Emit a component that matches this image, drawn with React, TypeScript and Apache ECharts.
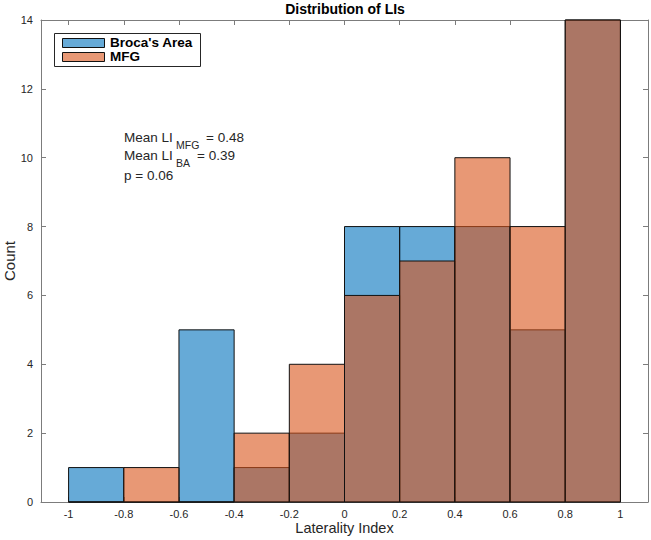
import React, { useEffect, useRef } from "react";
import * as echarts from "echarts";

const binEdges = [-1, -0.8, -0.6, -0.4, -0.2, 0, 0.2, 0.4, 0.6, 0.8, 1];
const brocaCounts = [1, 0, 5, 1, 2, 8, 8, 8, 5, 14];
const mfgCounts = [0, 1, 0, 2, 4, 6, 7, 10, 8, 14];
const xTicks = [-1, -0.8, -0.6, -0.4, -0.2, 0, 0.2, 0.4, 0.6, 0.8, 1];
const seriesNames = ["Broca's Area", "MFG"];

const BLUE = "rgba(0,114,189,0.6)";
const ORANGE = "rgba(217,83,25,0.6)";
const AXIS = "#7c7c7c";
const TEXT = "#262626";
const FONT = "'Liberation Sans', Arial, Helvetica, sans-serif";

function binData(counts: number[]) {
  return counts.map((c, i) => [binEdges[i], binEdges[i + 1], c]);
}

function makeRender(fill: string) {
  return (params: any, api: any) => {
    const x0 = api.value(0);
    const x1 = api.value(1);
    const c = api.value(2);
    const p0 = api.coord([x0, c]);
    const p1 = api.coord([x1, 0]);
    return {
      type: "rect",
      shape: { x: p0[0], y: p0[1], width: p1[0] - p0[0], height: p1[1] - p0[1] },
      style: { fill, stroke: "#111", lineWidth: 1 },
    };
  };
}

export default function App() {
  const ref = useRef<HTMLDivElement>(null);
  useEffect(() => {
    if (!ref.current) return;
    const chart = echarts.init(ref.current, null, { renderer: "svg" });
    const tickCommon = { show: true, inside: true, length: 5, lineStyle: { color: AXIS } };
    chart.setOption({
      animation: false,
      backgroundColor: "#fff",
      grid: { left: 41, right: 3, top: 20, bottom: 38, containLabel: false, outerBoundsMode: "none" },
      xAxis: [
        {
          type: "value",
          min: -1.1,
          max: 1.1,
          position: "bottom",
          name: "Laterality Index",
          nameLocation: "middle",
          nameGap: 19,
          nameMoveOverlap: false,
          nameTextStyle: { fontFamily: FONT, fontSize: 14.5, lineHeight: 14, color: TEXT },
          axisLine: { show: true, onZero: false, lineStyle: { color: AXIS } },
          axisTick: { ...tickCommon, customValues: xTicks },
          axisLabel: {
            customValues: xTicks,
            fontFamily: FONT,
            fontSize: 11,
            lineHeight: 11,
            color: TEXT,
            margin: 6,
            formatter: (v: number) => String(Math.round(v * 10) / 10),
          },
          splitLine: { show: false },
        },
        {
          type: "value",
          min: -1.1,
          max: 1.1,
          position: "top",
          axisLine: { show: true, onZero: false, lineStyle: { color: AXIS } },
          axisTick: { ...tickCommon, customValues: xTicks },
          axisLabel: { show: false },
          splitLine: { show: false },
        },
      ],
      yAxis: [
        {
          type: "value",
          min: 0,
          max: 14,
          interval: 2,
          position: "left",
          name: "Count",
          nameLocation: "middle",
          nameGap: 24,
          nameMoveOverlap: false,
          nameTextStyle: { fontFamily: FONT, fontSize: 15, color: TEXT },
          axisLine: { show: true, onZero: false, lineStyle: { color: AXIS } },
          axisTick: tickCommon,
          axisLabel: { fontFamily: FONT, fontSize: 11, color: TEXT, margin: 8 },
          splitLine: { show: false },
        },
        {
          type: "value",
          min: 0,
          max: 14,
          interval: 2,
          position: "right",
          axisLine: { show: true, onZero: false, lineStyle: { color: AXIS } },
          axisTick: tickCommon,
          axisLabel: { show: false },
          splitLine: { show: false },
        },
      ],
      series: [
        {
          type: "custom",
          name: seriesNames[0],
          renderItem: makeRender(BLUE),
          encode: { x: [0, 1], y: 2 },
          data: binData(brocaCounts),
          z: 2,
        },
        {
          type: "custom",
          name: seriesNames[1],
          renderItem: makeRender(ORANGE),
          encode: { x: [0, 1], y: 2 },
          data: binData(mfgCounts),
          z: 3,
        },
      ],
      graphic: [
        {
          type: "text",
          x: 345,
          y: 9,
          style: {
            text: "Distribution of LIs",
            font: `bold 14px ${FONT}`,
            fill: "#000",
            align: "center",
            verticalAlign: "middle",
          },
          z: 10,
        },
        {
          type: "rect",
          shape: { x: 54.5, y: 33.5, width: 146, height: 33 },
          style: { fill: "#fff", stroke: "#262626", lineWidth: 1 },
          z: 10,
        },
        {
          type: "rect",
          shape: { x: 62.5, y: 38.5, width: 42, height: 9 },
          style: { fill: "rgb(102,170,215)", stroke: "#111", lineWidth: 1 },
          z: 11,
        },
        {
          type: "rect",
          shape: { x: 62.5, y: 52.5, width: 42, height: 9 },
          style: { fill: "rgb(232,152,117)", stroke: "#111", lineWidth: 1 },
          z: 11,
        },
        {
          type: "text",
          x: 110,
          y: 42,
          style: {
            text: seriesNames[0],
            font: `bold 13.5px ${FONT}`,
            lineHeight: 13,
            fill: "#000",
            verticalAlign: "middle",
          },
          z: 11,
        },
        {
          type: "text",
          x: 110,
          y: 56,
          style: {
            text: seriesNames[1],
            font: `bold 13.5px ${FONT}`,
            lineHeight: 13,
            fill: "#000",
            verticalAlign: "middle",
          },
          z: 11,
        },
        {
          type: "text",
          x: 124,
          y: 137,
          style: { text: "Mean LI", font: `13.5px ${FONT}`, fill: TEXT, verticalAlign: "middle" },
          z: 11,
        },
        {
          type: "text",
          x: 176,
          y: 145,
          style: { text: "MFG", font: `10.5px ${FONT}`, fill: TEXT, verticalAlign: "middle" },
          z: 11,
        },
        {
          type: "text",
          x: 206,
          y: 137,
          style: { text: "= 0.48", font: `13.5px ${FONT}`, fill: TEXT, verticalAlign: "middle" },
          z: 11,
        },
        {
          type: "text",
          x: 124,
          y: 155,
          style: { text: "Mean LI", font: `13.5px ${FONT}`, fill: TEXT, verticalAlign: "middle" },
          z: 11,
        },
        {
          type: "text",
          x: 176,
          y: 163,
          style: { text: "BA", font: `10.5px ${FONT}`, fill: TEXT, verticalAlign: "middle" },
          z: 11,
        },
        {
          type: "text",
          x: 197,
          y: 155,
          style: { text: "= 0.39", font: `13.5px ${FONT}`, fill: TEXT, verticalAlign: "middle" },
          z: 11,
        },
        {
          type: "text",
          x: 124,
          y: 175,
          style: { text: "p = 0.06", font: `13.5px ${FONT}`, fill: TEXT, verticalAlign: "middle" },
          z: 11,
        },
      ],
    });
    return () => chart.dispose();
  }, []);
  return (
    <div
      ref={ref}
      style={{ position: "fixed", left: 0, top: 0, width: 651, height: 540, background: "#fff" }}
    />
  );
}
